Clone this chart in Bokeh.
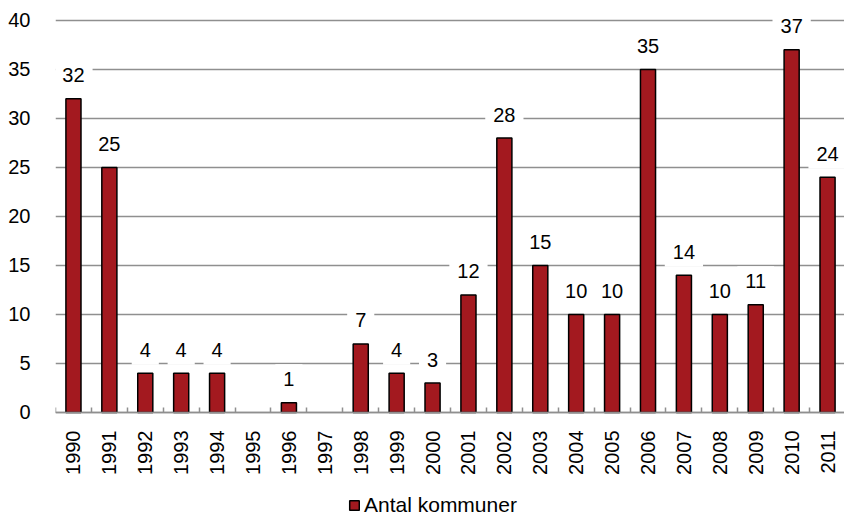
import math
from bokeh.plotting import figure
from bokeh.models import (ColumnDataSource, FixedTicker, Legend, LegendItem, Range1d,
                          LinearAxis)
from bokeh.embed import file_html
from bokeh.resources import INLINE
from bokeh.core.properties import value

years = ["1990", "1991", "1992", "1993", "1994", "1995", "1996", "1997", "1998", "1999", "2000",
         "2001", "2002", "2003", "2004", "2005", "2006", "2007", "2008", "2009", "2010", "2011"]
counts = [32, 25, 4, 4, 4, None, 1, None, 7, 4, 3, 12, 28, 15, 10, 10, 35, 14, 10, 11, 37, 24]
y_ticks = [0, 5, 10, 15, 20, 25, 30, 35, 40]
series_name = "Antal kommuner"

FONT = "Liberation Sans"
GRID = "#8f8f8f"

# frame extends beyond the value range so labels/legend can live inside it
Y_MIN, Y_MAX = -12.04, 41.22

n = len(years)
xs = [i + 0.5 for i in range(n)]
tops = [float("nan") if c is None else c for c in counts]
src = ColumnDataSource(dict(x=xs, top=tops))
lab = [(x, c) for x, c in zip(xs, counts) if c is not None]
lab_src = ColumnDataSource(dict(x=[a for a, _ in lab], top=[b for _, b in lab],
                                label=[str(b) for _, b in lab]))

p = figure(frame_width=790, frame_height=522, output_backend="svg", toolbar_location=None,
           x_range=Range1d(0, n), y_range=Range1d(Y_MIN, Y_MAX), x_axis_location=None,
           min_border_left=55, min_border_right=0, min_border_top=8, min_border_bottom=0)
p.outline_line_color = None
p.background_fill_color = "white"
p.border_fill_color = "white"

bars = p.vbar(x="x", top="top", bottom=0, width=0.42, source=src,
              fill_color="#A3191F", line_color="black", line_width=1.5)
p.text(x="x", y="top", text="label", source=lab_src, text_align="center",
       text_baseline="middle", y_offset=-23.5, text_font=value(FONT),
       text_font_size="20px", text_color="black",
       background_fill_color="white", padding=8)

# y axis
p.yaxis.ticker = FixedTicker(ticks=y_ticks)
p.yaxis.axis_line_color = None
p.yaxis.major_tick_line_color = None
p.yaxis.minor_tick_line_color = None
p.yaxis.major_label_standoff = 19
p.yaxis.major_label_text_font = FONT
p.yaxis.major_label_text_font_size = "20px"
p.yaxis.major_label_text_color = "black"

p.ygrid.ticker = FixedTicker(ticks=y_ticks)
p.ygrid.grid_line_color = GRID
p.ygrid.grid_line_width = 1.5
p.xgrid.grid_line_color = None

# x axis, pinned at y = 0
xaxis = LinearAxis(fixed_location=0,
                   ticker=FixedTicker(ticks=xs, minor_ticks=list(range(n + 1))),
                   major_label_overrides={x: y for x, y in zip(xs, years)})
xaxis.major_tick_line_color = None
xaxis.minor_tick_in = 5
xaxis.minor_tick_out = 0
xaxis.minor_tick_line_color = GRID
xaxis.minor_tick_line_width = 1.5
xaxis.axis_line_color = GRID
xaxis.axis_line_width = 1.5
xaxis.major_label_orientation = math.pi / 2
xaxis.major_label_standoff = 12
xaxis.major_label_text_font = FONT
xaxis.major_label_text_font_size = "20px"
xaxis.major_label_text_color = "black"
p.add_layout(xaxis, "below")

legend = Legend(items=[LegendItem(label=series_name, renderers=[bars])],
                orientation="horizontal", location=(293, 13),
                glyph_width=12, glyph_height=12, label_standoff=4,
                label_text_font=FONT, label_text_font_size="21px",
                label_text_color="black",
                padding=0, margin=0, border_line_color=None,
                background_fill_alpha=0)
p.add_layout(legend, "center")

open("out.html", "w").write(file_html(p, INLINE))
